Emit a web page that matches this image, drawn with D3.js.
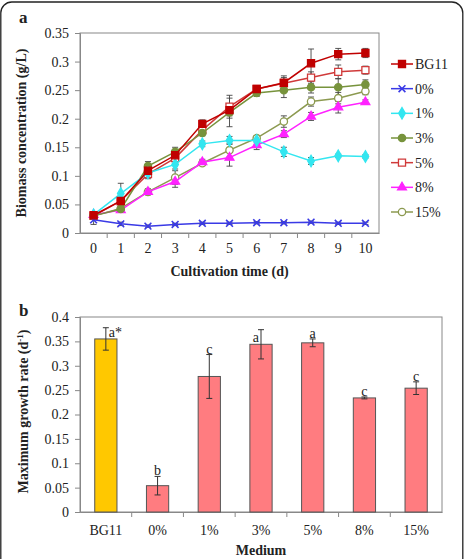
<!DOCTYPE html>
<html>
<head>
<meta charset="utf-8">
<script src="https://cdn.jsdelivr.net/npm/d3@7.9.0/dist/d3.min.js"></script>
<style>
  body { margin: 0; background: #fff; }
  svg { display: block; font-family: "Liberation Serif", "Times New Roman", serif; }
</style>
</head>
<body>
<svg id="fig" width="465" height="559"></svg>
<script>
// ---- panel a data: biomass concentration (g/L) over days ----
const days = ['0', '1', '2', '3', '4', '5', '6', '7', '8', '9', '10'];
const seriesNames = ['BG11', '0%', '1%', '3%', '5%', '8%', '15%'];
const bg11 = [0.031, 0.056, 0.109, 0.136, 0.191, 0.215, 0.252, 0.263, 0.297, 0.313, 0.315];
const pct0 = [0.023, 0.016, 0.012, 0.015, 0.017, 0.017, 0.018, 0.018, 0.019, 0.017, 0.017];
const pct1 = [0.032, 0.069, 0.105, 0.120, 0.156, 0.162, 0.162, 0.142, 0.126, 0.135, 0.134];
const pct3 = [0.030, 0.042, 0.117, 0.142, 0.175, 0.211, 0.245, 0.250, 0.255, 0.255, 0.260];
const pct5 = [0.030, 0.056, 0.103, 0.131, 0.180, 0.221, 0.252, 0.262, 0.272, 0.282, 0.285];
const pct8 = [0.032, 0.040, 0.072, 0.090, 0.124, 0.132, 0.154, 0.173, 0.204, 0.220, 0.229];
const pct15 = [0.030, 0.043, 0.072, 0.097, 0.122, 0.145, 0.166, 0.195, 0.230, 0.236, 0.248];
const errBg11 = [0.005, 0.005, 0.008, 0.008, 0.007, 0.010, 0.005, 0.012, 0.025, 0.010, 0.008];
const err0 = [0.008, 0.003, 0.002, 0.002, 0.002, 0.002, 0.002, 0.002, 0.002, 0.002, 0.002];
const err1 = [0.005, 0.018, 0.005, 0.008, 0.005, 0.007, 0.004, 0.008, 0.006, 0.003, 0.003];
const err3 = [0.005, 0.005, 0.008, 0.008, 0.005, 0.025, 0.006, 0.013, 0.010, 0.015, 0.008];
const err5 = [0.005, 0.006, 0.008, 0.010, 0.006, 0.020, 0.005, 0.010, 0.010, 0.012, 0.007];
const err8 = [0.004, 0.004, 0.005, 0.010, 0.005, 0.015, 0.008, 0.006, 0.007, 0.010, 0.004];
const err15 = [0.004, 0.004, 0.005, 0.012, 0.004, 0.012, 0.004, 0.010, 0.008, 0.010, 0.006];
const biomassTicks = [0, 0.05, 0.1, 0.15, 0.2, 0.25, 0.3, 0.35];

// ---- panel b data: maximum growth rate (d-1) ----
const media = ['BG11', '0%', '1%', '3%', '5%', '8%', '15%'];
const growthRate = [0.355, 0.054, 0.278, 0.344, 0.347, 0.234, 0.254];
const growthErr = [0.023, 0.019, 0.045, 0.030, 0.008, 0.002, 0.013];
const letters = ['a*', 'b', 'c', 'a', 'a', 'c', 'c'];
const rateTicks = [0, 0.05, 0.1, 0.15, 0.2, 0.25, 0.3, 0.35, 0.4];

const svg = d3.select('#fig');

// outer rounded frame
svg.append('rect')
  .attr('x', 0.8).attr('y', 2).attr('width', 462).attr('height', 620)
  .attr('rx', 11).attr('fill', 'none').attr('stroke', '#222').attr('stroke-width', 1.3);

// styles per series
const styles = {
  'BG11': { color: '#c00000', shape: 'square', fill: '#c00000' },
  '0%': { color: '#3a3ae6', shape: 'cross', fill: 'none' },
  '1%': { color: '#33e6f0', shape: 'diamond', fill: '#33e6f0' },
  '3%': { color: '#77933c', shape: 'circle', fill: '#77933c' },
  '5%': { color: '#d03a3a', shape: 'square', fill: '#fff' },
  '8%': { color: '#ff22ff', shape: 'triangle', fill: '#ff22ff' },
  '15%': { color: '#8c9a50', shape: 'circle', fill: '#fff' }
};
const shapeSym = {
  square: d3.symbolSquare, diamond: d3.symbolDiamond, circle: d3.symbolCircle,
  triangle: d3.symbolTriangle, cross: d3.symbolX
};
const shapeSize = { square: 50, diamond: 38, circle: 42, triangle: 34, cross: 32 };

function drawMarker(g, name, x, y) {
  const s = styles[name];
  g.append('path')
    .attr('d', d3.symbol().type(shapeSym[s.shape]).size(shapeSize[s.shape])())
    .attr('transform', `translate(${x},${y})`)
    .attr('fill', s.fill)
    .attr('stroke', s.color)
    .attr('stroke-width', s.shape === 'cross' ? 1.6 : 1.3);
}

// ================= panel a =================
const a = { left: 80, right: 379, top: 33, bottom: 233 };
const xA = d3.scaleBand().domain(days).range([a.left, a.right]);
const yA = d3.scaleLinear().domain([0, 0.35]).range([a.bottom, a.top]);
const gA = svg.append('g');

gA.append('rect')
  .attr('x', a.left).attr('y', a.top)
  .attr('width', a.right - a.left).attr('height', a.bottom - a.top)
  .attr('fill', 'none').attr('stroke', '#888').attr('stroke-width', 1);

const yAxisA = gA.append('g')
  .attr('transform', `translate(${a.left},0)`)
  .call(d3.axisLeft(yA).tickValues(biomassTicks).tickSize(5).tickPadding(6).tickFormat(d => d3.format('')(+d.toFixed(2))));
yAxisA.select('.domain').attr('stroke', '#888');
yAxisA.selectAll('.tick line').attr('stroke', '#888');
yAxisA.selectAll('text').attr('font-size', 14).attr('fill', '#222').attr('font-family', 'Liberation Serif');

// x axis: labels at centres, tick marks at category boundaries
const xAxisA = gA.append('g')
  .attr('transform', `translate(0,${a.bottom})`)
  .call(d3.axisBottom(xA).tickSize(0).tickPadding(10));
xAxisA.select('.domain').attr('stroke', '#888');
xAxisA.selectAll('text').attr('font-size', 14).attr('fill', '#222').attr('font-family', 'Liberation Serif');
gA.selectAll('.bound-a')
  .data(days.slice(1))
  .join('line')
  .attr('x1', d => xA(d)).attr('x2', d => xA(d))
  .attr('y1', a.bottom).attr('y2', a.bottom + 5)
  .attr('stroke', '#888');

const seriesData = [bg11, pct0, pct1, pct3, pct5, pct8, pct15];
const seriesErr = [errBg11, err0, err1, err3, err5, err8, err15];
const cx = d => xA(d) + xA.bandwidth() / 2;

// error bars first
seriesNames.forEach((name, si) => {
  const vals = seriesData[si];
  const errs = seriesErr[si];
  days.forEach((d, i) => {
    const x = cx(d);
    const y1 = yA(vals[i] + errs[i]);
    const y2 = yA(vals[i] - errs[i]);
    gA.append('line').attr('x1', x).attr('x2', x).attr('y1', y1).attr('y2', y2).attr('stroke', '#444').attr('stroke-width', 0.9);
    gA.append('line').attr('x1', x - 3).attr('x2', x + 3).attr('y1', y1).attr('y2', y1).attr('stroke', '#444').attr('stroke-width', 0.9);
    gA.append('line').attr('x1', x - 3).attr('x2', x + 3).attr('y1', y2).attr('y2', y2).attr('stroke', '#444').attr('stroke-width', 0.9);
  });
});

const lineGen = d3.line().x((v, i) => cx(days[i])).y(v => yA(v));
[...seriesNames].reverse().forEach(name => {
  const si = seriesNames.indexOf(name);
  const vals = seriesData[si];
  gA.append('path')
    .attr('d', lineGen(vals))
    .attr('fill', 'none')
    .attr('stroke', styles[name].color)
    .attr('stroke-width', 1.5);
  vals.forEach((v, i) => drawMarker(gA, name, cx(days[i]), yA(v)));
});

// legend
const legY = d3.scalePoint().domain(seriesNames).range([64, 212]);
seriesNames.forEach(name => {
  const y = legY(name);
  gA.append('line').attr('x1', 391).attr('x2', 413).attr('y1', y).attr('y2', y)
    .attr('stroke', styles[name].color).attr('stroke-width', 1.5);
  drawMarker(gA, name, 402, y);
  gA.append('text').attr('x', 415).attr('y', y + 5)
    .attr('font-size', 14).attr('fill', '#222').text(name);
});

gA.append('text').attr('x', 19).attr('y', 23)
  .attr('font-size', 17).attr('font-weight', 'bold').attr('fill', '#222').text('a');

gA.append('text')
  .attr('transform', `translate(26,${(a.top + a.bottom) / 2}) rotate(-90)`)
  .attr('text-anchor', 'middle').attr('font-size', 14).attr('font-weight', 'bold').attr('fill', '#222')
  .text('Biomass concentration (g/L)');
gA.append('text')
  .attr('x', (a.left + a.right) / 2).attr('y', 276)
  .attr('text-anchor', 'middle').attr('font-size', 14).attr('font-weight', 'bold').attr('fill', '#222')
  .text('Cultivation time (d)');

// ================= panel b =================
const b = { left: 80, right: 442, top: 317, bottom: 512 };
const xB = d3.scaleBand().domain(media).range([b.left, b.right]).paddingInner(0.57).paddingOuter(0.285);
const yB = d3.scaleLinear().domain([0, 0.4]).range([b.bottom, b.top]);
const gB = svg.append('g');

gB.append('rect')
  .attr('x', b.left).attr('y', b.top)
  .attr('width', b.right - b.left).attr('height', b.bottom - b.top)
  .attr('fill', 'none').attr('stroke', '#888').attr('stroke-width', 1);

const yAxisB = gB.append('g')
  .attr('transform', `translate(${b.left},0)`)
  .call(d3.axisLeft(yB).tickValues(rateTicks).tickSize(5).tickPadding(6).tickFormat(d => d3.format('')(+d.toFixed(2))));
yAxisB.select('.domain').attr('stroke', '#888');
yAxisB.selectAll('.tick line').attr('stroke', '#888');
yAxisB.selectAll('text').attr('font-size', 14).attr('fill', '#222').attr('font-family', 'Liberation Serif');

const xAxisB = gB.append('g')
  .attr('transform', `translate(0,${b.bottom})`)
  .call(d3.axisBottom(xB).tickSize(0).tickPadding(13));
xAxisB.select('.domain').attr('stroke', '#888');
xAxisB.selectAll('text').attr('font-size', 14).attr('fill', '#222').attr('font-family', 'Liberation Serif');
const stepB = xB.step();
gB.selectAll('.bound-b')
  .data(media.slice(1))
  .join('line')
  .attr('x1', d => xB(d) + xB.bandwidth() / 2 - stepB / 2)
  .attr('x2', d => xB(d) + xB.bandwidth() / 2 - stepB / 2)
  .attr('y1', b.bottom).attr('y2', b.bottom + 5)
  .attr('stroke', '#888');

gB.selectAll('.bar')
  .data(media)
  .join('rect')
  .attr('x', d => xB(d))
  .attr('y', (d, i) => yB(growthRate[i]))
  .attr('width', xB.bandwidth())
  .attr('height', (d, i) => b.bottom - yB(growthRate[i]))
  .attr('fill', (d, i) => i === 0 ? '#ffc800' : '#ff7c80')
  .attr('stroke', '#555').attr('stroke-width', 1);

media.forEach((m, i) => {
  const x = xB(m) + xB.bandwidth() / 2;
  const y1 = yB(growthRate[i] + growthErr[i]);
  const y2 = yB(growthRate[i] - growthErr[i]);
  gB.append('line').attr('x1', x).attr('x2', x).attr('y1', y1).attr('y2', y2).attr('stroke', '#333');
  gB.append('line').attr('x1', x - 3).attr('x2', x + 3).attr('y1', y1).attr('y2', y1).attr('stroke', '#333');
  gB.append('line').attr('x1', x - 3).attr('x2', x + 3).attr('y1', y2).attr('y2', y2).attr('stroke', '#333');
  const t = gB.append('text').attr('font-size', 14).attr('fill', '#222').text(letters[i]);
  if (i === 0) t.attr('x', x + 3).attr('y', y1 + 9);
  else if (i === 3) t.attr('x', x - 2).attr('y', y1 + 12).attr('text-anchor', 'end');
  else t.attr('x', x).attr('y', y1 - 1).attr('text-anchor', 'middle');
});

gB.append('text').attr('x', 19).attr('y', 316)
  .attr('font-size', 17).attr('font-weight', 'bold').attr('fill', '#222').text('b');

const yTitleB = gB.append('text')
  .attr('transform', `translate(28,${(b.top + b.bottom) / 2 - 3}) rotate(-90)`)
  .attr('text-anchor', 'middle').attr('font-size', 14).attr('font-weight', 'bold').attr('fill', '#222');
yTitleB.append('tspan').text('Maximum growth rate (d');
yTitleB.append('tspan').attr('font-size', 9).attr('dy', -5).text('-1');
yTitleB.append('tspan').attr('dy', 5).text(')');

gB.append('text')
  .attr('x', (b.left + b.right) / 2).attr('y', 555)
  .attr('text-anchor', 'middle').attr('font-size', 14).attr('font-weight', 'bold').attr('fill', '#222')
  .text('Medium');
</script>
</body>
</html>
